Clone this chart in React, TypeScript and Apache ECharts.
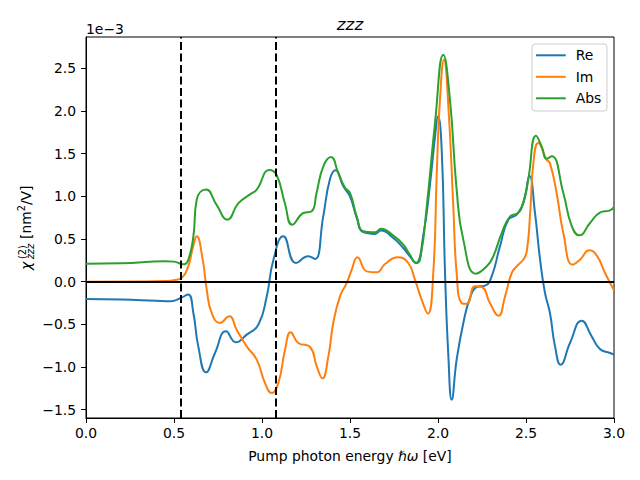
import React, { useEffect, useRef } from "react";
import * as echarts from "echarts";

// Photon energy (eV) and chi^(2)_zzz values in units of 1e-3 nm^2/V
const reX = [0, 0.2, 0.4, 0.48, 0.54, 0.58, 0.61, 0.638, 0.682, 0.733, 0.795, 0.852, 0.913, 0.979, 1.027, 1.065, 1.121, 1.193, 1.263, 1.301, 1.348, 1.386, 1.418, 1.462, 1.5, 1.538, 1.576, 1.642, 1.676, 1.746, 1.803, 1.84, 1.875, 1.917, 1.955, 1.983, 2.0, 2.021, 2.04, 2.059, 2.078, 2.106, 2.144, 2.182, 2.22, 2.267, 2.305, 2.352, 2.4, 2.447, 2.485, 2.52, 2.551, 2.58, 2.608, 2.636, 2.665, 2.697, 2.75, 2.816, 2.873, 2.92, 2.977, 3.0];
const reY = [-0.203, -0.21, -0.225, -0.23, -0.19, -0.15, -0.367, -0.758, -1.063, -0.836, -0.582, -0.711, -0.621, -0.504, -0.172, 0.258, 0.531, 0.219, 0.297, 0.266, 0.766, 1.2, 1.305, 1.117, 1.0, 0.75, 0.58, 0.56, 0.6, 0.512, 0.395, 0.297, 0.22, 0.55, 1.15, 1.7, 1.94, 1.55, 0.1, -0.876, -1.383, -0.914, -0.484, -0.191, -0.062, -0.047, 0.062, 0.414, 0.727, 0.785, 0.922, 1.24, 0.805, 0.258, -0.133, -0.367, -0.758, -0.973, -0.719, -0.457, -0.641, -0.789, -0.836, -0.856];

const imX = [0, 0.3, 0.45, 0.5, 0.543, 0.581, 0.605, 0.629, 0.663, 0.686, 0.714, 0.761, 0.814, 0.856, 0.913, 0.97, 1.017, 1.055, 1.093, 1.131, 1.163, 1.206, 1.273, 1.311, 1.343, 1.377, 1.405, 1.443, 1.481, 1.51, 1.542, 1.595, 1.652, 1.699, 1.771, 1.831, 1.869, 1.907, 1.942, 1.973, 1.993, 2.011, 2.034, 2.059, 2.087, 2.106, 2.134, 2.163, 2.21, 2.248, 2.295, 2.343, 2.381, 2.419, 2.447, 2.485, 2.505, 2.525, 2.542, 2.57, 2.617, 2.636, 2.674, 2.712, 2.765, 2.807, 2.86, 2.905, 2.949, 3.0];
const imY = [0, 0.002, 0.008, 0.018, 0.043, 0.18, 0.38, 0.531, 0.258, -0.094, -0.367, -0.484, -0.406, -0.563, -0.758, -0.914, -1.188, -1.305, -1.188, -0.797, -0.594, -0.719, -0.766, -0.992, -1.133, -0.875, -0.484, -0.172, -0.016, 0.141, 0.285, 0.121, 0.109, 0.207, 0.285, 0.219, 0.023, -0.211, -0.375, 0.1, 1.27, 2.13, 2.6, 2.05, 0.88, 0.1, -0.25, -0.26, -0.055, -0.062, -0.25, -0.399, -0.172, 0.102, 0.18, 0.26, 0.36, 0.85, 1.39, 1.626, 1.43, 1.39, 1.04, 0.57, 0.2, 0.258, 0.367, 0.297, 0.102, -0.102];

const absX = [0, 0.2, 0.45, 0.5, 0.553, 0.58, 0.61, 0.629, 0.682, 0.742, 0.803, 0.866, 0.93, 0.97, 1.042, 1.083, 1.13, 1.172, 1.235, 1.282, 1.31, 1.348, 1.392, 1.434, 1.472, 1.5, 1.538, 1.576, 1.642, 1.676, 1.746, 1.803, 1.84, 1.875, 1.898, 1.936, 1.983, 2.03, 2.068, 2.106, 2.144, 2.216, 2.277, 2.314, 2.362, 2.41, 2.456, 2.494, 2.513, 2.557, 2.59, 2.617, 2.646, 2.712, 2.76, 2.803, 2.864, 2.92, 2.977, 3.0];
const absY = [0.211, 0.215, 0.238, 0.235, 0.203, 0.25, 0.53, 0.96, 1.08, 0.9, 0.727, 0.92, 1.02, 1.08, 1.31, 1.25, 0.92, 0.668, 0.805, 0.825, 1.04, 1.35, 1.46, 1.27, 1.1, 1.04, 0.766, 0.59, 0.578, 0.62, 0.54, 0.434, 0.317, 0.22, 0.26, 0.88, 1.86, 2.66, 2.13, 1.08, 0.49, 0.094, 0.18, 0.297, 0.57, 0.766, 0.81, 1.0, 1.2, 1.71, 1.58, 1.44, 1.47, 1.04, 0.65, 0.543, 0.688, 0.81, 0.836, 0.876];

const seriesNames = ["Re", "Im", "Abs"];
const seriesColors = ["#1f77b4", "#ff7f0e", "#2ca02c"];
const xTicks = [0, 0.5, 1.0, 1.5, 2.0, 2.5, 3.0];
const yTicks = [-1.5, -1.0, -0.5, 0.0, 0.5, 1.0, 1.5, 2.0, 2.5];
const vLines = [0.54, 1.08];
const hLine = 0;

const FONT = '"DejaVu Sans", sans-serif';
const FS = 13.9;

const pairs = (xs: number[], ys: number[]) => xs.map((x, i) => [x, ys[i]]);
const fmt = (v: number) => v.toFixed(1).replace("-", "\u2212");

export default function App() {
  const ref = useRef<HTMLDivElement>(null);
  useEffect(() => {
    if (!ref.current) return;
    const chart = echarts.init(ref.current, undefined, { renderer: "svg" });
    const dataSets = [pairs(reX, reY), pairs(imX, imY), pairs(absX, absY)];
    const txt = (extra: any) => ({ fill: "#000", fontFamily: FONT, fontSize: FS, ...extra });
    chart.setOption({
      animation: false,
      backgroundColor: "#fff",
      grid: { left: 86, right: 26, top: 37, bottom: 62, show: true, borderColor: "#000", borderWidth: 1, backgroundColor: "transparent" },
      xAxis: {
        type: "value",
        min: 0,
        max: 3,
        interval: 0.5,
        axisLine: { show: true, onZero: false, lineStyle: { color: "#000", width: 1 } },
        axisTick: { show: true, length: 5, lineStyle: { color: "#000", width: 1 }, customValues: xTicks },
        axisLabel: { color: "#000", fontFamily: FONT, fontSize: FS, margin: 8, formatter: (v: number) => v.toFixed(1), customValues: xTicks },
        splitLine: { show: false },
      },
      yAxis: {
        type: "value",
        min: -1.598,
        max: 2.868,
        axisLine: { show: true, onZero: false, lineStyle: { color: "#000", width: 1 } },
        axisTick: { show: true, length: 5, lineStyle: { color: "#000", width: 1 }, customValues: yTicks },
        axisLabel: { color: "#000", fontFamily: FONT, fontSize: FS, margin: 10, formatter: (v: number) => fmt(v), customValues: yTicks },
        splitLine: { show: false },
      },
      legend: {
        data: seriesNames,
        orient: "vertical",
        right: 33,
        top: 44,
        icon: "rect",
        itemWidth: 29.7,
        itemHeight: 2,
        itemGap: 7.5,
        padding: [4.3, 5.7, 5.7, 4],
        borderColor: "#cccccc",
        borderWidth: 1,
        borderRadius: 3,
        backgroundColor: "rgba(255,255,255,0.8)",
        textStyle: { color: "#000", fontFamily: FONT, fontSize: FS, padding: [0, 0, 0, 5] },
      },
      series: [
        {
          name: "_ref",
          type: "line",
          data: [],
          z: 1,
          silent: true,
          markLine: {
            silent: true,
            symbol: "none",
            label: { show: false },
            data: [
              { yAxis: hLine, lineStyle: { color: "#000", width: 2, type: "solid" } },
              ...vLines.map((v) => ({ xAxis: v, lineStyle: { color: "#000", width: 2, type: [8, 3.5] } })),
            ],
          },
        },
        ...seriesNames.map((name, i) => ({
          name,
          type: "line",
          data: dataSets[i],
          z: 2,
          smooth: 0.5,
          showSymbol: false,
          symbol: "none",
          color: seriesColors[i],
          lineStyle: { color: seriesColors[i], width: 2 },
        })),
      ],
      graphic: [
        { type: "text", x: 350, y: 24, style: txt({ text: "zzz", fontSize: 16.7, fontStyle: "italic", align: "center", verticalAlign: "middle" }) },
        { type: "text", x: 86, y: 29, style: txt({ text: "1e\u22123", align: "left", verticalAlign: "middle" }) },
        {
          type: "text",
          x: 350,
          y: 456,
          style: txt({
            text: "Pump photon energy {i|\u210F\u03C9} [eV]",
            align: "center",
            verticalAlign: "middle",
            rich: { i: { fontStyle: "italic", fontFamily: FONT, fontSize: FS, fill: "#000" } },
          }),
        },
        {
          type: "group",
          x: 26,
          y: 270,
          rotation: Math.PI / 2,
          children: [
            { type: "text", x: 0, y: 0, style: txt({ text: "\u03C7", fontStyle: "italic", align: "left", verticalAlign: "middle" }) },
            { type: "text", x: 11, y: -4, style: txt({ text: "(2)", fontSize: 9.7, align: "left", verticalAlign: "middle" }) },
            { type: "text", x: 11, y: 4.5, style: txt({ text: "zzz", fontSize: 9.7, fontStyle: "italic", align: "left", verticalAlign: "middle" }) },
            { type: "text", x: 31, y: 0, style: txt({ text: "[nm", align: "left", verticalAlign: "middle" }) },
            { type: "text", x: 58.7, y: -4.5, style: txt({ text: "2", fontSize: 9.7, align: "left", verticalAlign: "middle" }) },
            { type: "text", x: 64.9, y: 0, style: txt({ text: "/V]", align: "left", verticalAlign: "middle" }) },
          ],
        },
      ],
    });
    return () => chart.dispose();
  }, []);
  return <div ref={ref} style={{ width: 640, height: 480, position: "absolute", left: 0, top: 0 }} />;
}
